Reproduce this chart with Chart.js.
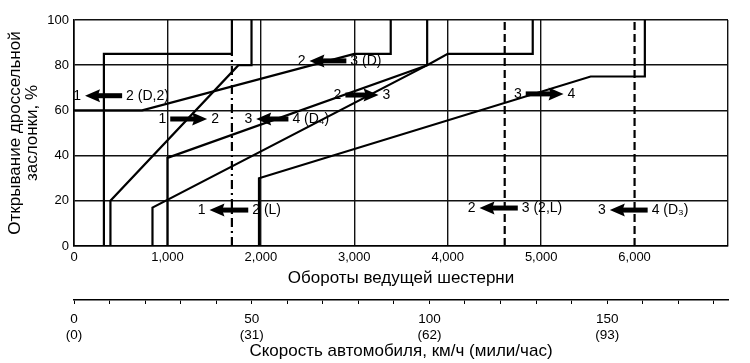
<!DOCTYPE html>
<html>
<head>
<meta charset="utf-8">
<script src="https://cdn.jsdelivr.net/npm/chart.js@4.4.1/dist/chart.umd.min.js"></script>
<style>
  html, body { margin: 0; background: #fff; }
  #wrap { width: 750px; height: 363px; position: relative; }
</style>
</head>
<body>
<div id="wrap"><canvas id="shift-chart"></canvas></div>
<script>
// shift pattern: drive gear rpm (x) vs throttle opening % (y)
var up12Rpm = [390, 390, 1760, 1900, 1900];
var up12Pct = [0, 20, 80, 80, 100];
var down12Rpm = [320, 320, 1690, 1690];
var down12Pct = [0, 85, 85, 100];
var down12LRpm = [1690, 1690];
var down12LPct = [0, 85];
var down23Rpm = [0, 730, 3000, 3390, 3390];
var down23Pct = [60, 60, 85, 85, 100];
var up23Rpm = [1000, 1000, 3780, 4000, 4910, 4910];
var up23Pct = [0, 39, 80, 85, 85, 100];
var down34D4Rpm = [840, 840, 3780, 3780];
var down34D4Pct = [0, 17, 80, 100];
var up34Rpm = [1980, 1980, 5530, 6110, 6110];
var up34Pct = [0, 30, 75, 75, 100];
var down23LRpm = [4610, 4610];
var down23LPct = [0, 100];
var down34D3Rpm = [6000, 6000];
var down34D3Pct = [0, 100];

var rpmLabels = ["0", "1,000", "2,000", "3,000", "4,000", "5,000", "6,000", ""];
var speedKmh = [0, 50, 100, 150];
var speedMph = ["(0)", "(31)", "(62)", "(93)"];

// arrow captions: from gear, to gear, arrow span (rpm), throttle %, direction
var capFrom = ["1", "1", "3", "2", "2", "3", "1", "2", "3"];
var capTo = ["2 (D,2)", "2", "4 (D\u2084)", "3 (D)", "3", "4", "2 (L)", "3 (2,L)", "4 (D\u2083)"];
var capRpmA = [118, 1030, 1950, 2520, 2905, 4835, 1450, 4340, 5735];
var capRpmB = [515, 1425, 2295, 2915, 3260, 5240, 1865, 4750, 6140];
var capPct = [66.5, 56.2, 56.2, 81.9, 66.8, 67.3, 15.9, 16.8, 15.9];
var capDir = [-1, 1, -1, -1, 1, 1, -1, -1, -1];

function pts(xs, ys) {
  return xs.map(function (x, i) { return { x: x, y: ys[i] }; });
}
function line(xs, ys, dash) {
  return {
    data: pts(xs, ys), showLine: true, pointRadius: 0, borderColor: "#000",
    borderWidth: 2.2, borderDash: dash || [], fill: false, tension: 0
  };
}

var captions = {
  id: "captions",
  afterDatasetsDraw: function (chart) {
    var ctx = chart.ctx, sx = chart.scales.x, sy = chart.scales.y;
    ctx.save();
    ctx.fillStyle = "#000";
    ctx.font = "14px 'Liberation Sans', Arial, sans-serif";
    ctx.textBaseline = "middle";
    for (var i = 0; i < capFrom.length; i++) {
      var a = sx.getPixelForValue(capRpmA[i]);
      var b = sx.getPixelForValue(capRpmB[i]);
      var y = sy.getPixelForValue(capPct[i]);
      var tip = capDir[i] > 0 ? b : a;
      var tail = capDir[i] > 0 ? a : b;
      var h = 15 * capDir[i];
      ctx.fillRect(Math.min(tail, tip - h * 0.7), y - 2.5, Math.abs(tip - h * 0.7 - tail), 5);
      ctx.beginPath();
      ctx.moveTo(tip, y);
      ctx.lineTo(tip - h, y - 6.5);
      ctx.lineTo(tip - h * 0.85, y);
      ctx.lineTo(tip - h, y + 6.5);
      ctx.closePath();
      ctx.fill();
      ctx.textAlign = "right";
      ctx.fillText(capFrom[i], a - 4, y);
      ctx.textAlign = "left";
      ctx.fillText(capTo[i], b + 4, y);
    }
    ctx.restore();
  }
};

Chart.defaults.font.family = "'Liberation Sans', Arial, sans-serif";
Chart.defaults.color = "#000";

new Chart(document.getElementById("shift-chart"), {
  type: "scatter",
  data: {
    datasets: [
      line(up12Rpm, up12Pct),
      line(down12Rpm, down12Pct),
      line(down12LRpm, down12LPct, [9, 4, 2, 4]),
      line(down23Rpm, down23Pct),
      line(up23Rpm, up23Pct),
      line(down34D4Rpm, down34D4Pct),
      line(up34Rpm, up34Pct),
      line(down23LRpm, down23LPct, [8, 4]),
      line(down34D3Rpm, down34D3Pct, [8, 4])
    ]
  },
  options: {
    responsive: true, maintainAspectRatio: false, animation: false,
    layout: { padding: { top: 20, right: 22, left: 0, bottom: 0 } },
    plugins: { legend: { display: false }, tooltip: { enabled: false } },
    scales: {
      x: {
        type: "linear", position: "bottom", min: 0, max: 7000,
        ticks: {
          stepSize: 1000, autoSkip: false, maxRotation: 0, padding: 4, font: { size: 13 },
          callback: function (v, i) { return rpmLabels[i]; }
        },
        grid: {
          drawTicks: false, lineWidth: 1.4,
          color: function (c) { return c.tick && c.tick.value === 6000 ? "rgba(0,0,0,0)" : "#111"; }
        },
        border: { color: "#000", width: 1.6 },
        title: { display: true, text: "Обороты ведущей шестерни", font: { size: 17 }, padding: { top: 0, bottom: 11 } },
        afterFit: function (s) { s.height = 54; }
      },
      x2: {
        type: "linear", position: "bottom", min: 0, max: 184,
        ticks: {
          stepSize: 10, includeBounds: false, autoSkip: false, maxRotation: 0, padding: 7, font: { size: 13.5 },
          callback: function (v) {
            var k = speedKmh.indexOf(v);
            return k < 0 ? "" : [String(v), speedMph[k]];
          }
        },
        grid: { drawOnChartArea: false, color: "#000", tickLength: 4, lineWidth: 1 },
        border: { color: "#000", width: 1.6 },
        title: { display: true, text: "Скорость автомобиля, км/ч (мили/час)", font: { size: 17 }, padding: { top: 0, bottom: 1 } },
        afterFit: function (s) { s.height = 63; }
      },
      y: {
        min: 0, max: 100,
        ticks: { stepSize: 20, padding: 5, font: { size: 13 } },
        grid: { drawTicks: false, lineWidth: 1.4, color: "#111" },
        border: { color: "#000", width: 1.6 },
        title: {
          display: true, text: ["Открывание дроссельной", "заслонки, %"],
          font: { size: 17, lineHeight: 1.05 }, padding: { top: 6, bottom: 0 }
        },
        afterFit: function (s) { s.width = 74; }
      }
    }
  },
  plugins: [captions]
});
</script>
</body>
</html>
